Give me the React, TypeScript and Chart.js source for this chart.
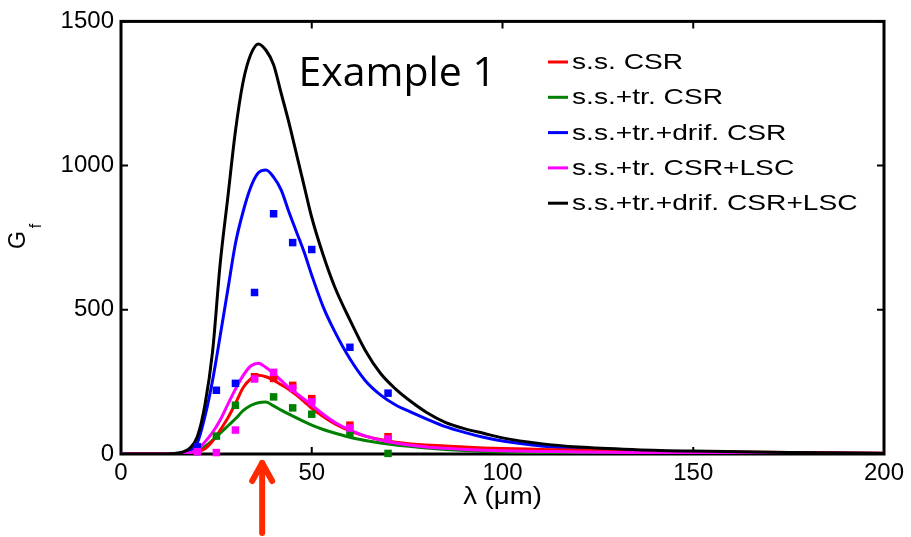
import React, { useEffect, useRef } from "react";
import { Chart, registerables } from "chart.js";
Chart.register(...registerables);

// wavelength grid (µm) for the model curves
const lambdaGrid = [0, 10, 14, 16, 18, 20, 22, 24, 26, 28, 30, 32, 34, 36, 38, 40, 42, 44, 46, 48, 50, 53, 56, 60, 64, 68, 72, 76, 80, 85, 90, 95, 100, 110, 120, 135, 150, 175, 200];
// model curves G_f
const ssCSR = [0, 0, 0, 1, 3, 8, 18, 45, 83, 125, 175, 230, 260, 273, 268, 256, 240, 224, 204, 182, 158, 130, 105, 80, 62, 50, 41, 35, 31, 28, 24, 21, 19, 16, 13, 10, 8, 5, 3];
const ssTrCSR = [0, 0, 0, 1, 3, 10, 26, 48, 72, 97, 122, 150, 168, 178, 180, 167, 152, 138, 125, 112, 100, 85, 73, 58, 47, 38, 31, 26, 21, 16, 12, 9, 7, 4, 3, 2, 1, 1, 0];
const ssTrDrifCSR = [0, 0, 1, 3, 10, 38, 130, 255, 410, 570, 730, 840, 925, 975, 985, 960, 915, 840, 770, 700, 620, 510, 425, 330, 255, 205, 170, 145, 122, 95, 75, 58, 45, 28, 18, 11, 7, 4, 2];
const ssTrCSRLSC = [0, 0, 0, 1, 4, 14, 42, 75, 118, 172, 225, 272, 305, 315, 300, 279, 255, 230, 210, 190, 170, 138, 110, 83, 63, 48, 38, 30, 24, 20, 16, 13, 11, 9, 7, 5, 4, 3, 2];
const ssTrDrifCSRLSC = [0, 0, 2, 6, 20, 60, 170, 355, 660, 890, 1120, 1290, 1385, 1422, 1400, 1350, 1250, 1150, 1040, 930, 820, 690, 580, 465, 360, 280, 225, 182, 145, 110, 88, 72, 56, 36, 24, 15, 10, 5, 3];

// simulation points
const simLambda = [20, 25, 30, 35, 40, 45, 50, 60, 70];
const simSsCSR = [null, null, null, 268, 262, 238, 192, 100, 60];
const simSsTrCSR = [null, 62, 169, null, 198, 160, 138, 72, 2];
const simSsTrDrifCSR = [25, 221, 245, 560, 833, 733, 709, 370, 211];
const simSsTrCSRLSC = [8, 5, 83, 260, 283, 228, 181, 90, 52];

const seriesLabels = ["s.s. CSR", "s.s.+tr. CSR", "s.s.+tr.+drif. CSR", "s.s.+tr. CSR+LSC", "s.s.+tr.+drif. CSR+LSC"];
const seriesColors = ["#ff0000", "#008000", "#0000ff", "#ff00ff", "#000000"];
const xTickValues = [0, 50, 100, 150, 200];
const yTickValues = [0, 500, 1000, 1500];
const xTitle = "λ (μm)";
const yTitleMain = "G";
const yTitleSub = "f";
const annotationText = "Example 1";
const annotationLambda = 46.5;
const annotationG = 1275;
const arrowLambda = 37;

const toXY = (xs: number[], ys: (number | null)[]) => xs.map((x, i) => ({ x, y: ys[i] }));

const framePlugin = {
  id: "frame",
  beforeDatasetsDraw(chart: any) {
    const { ctx, chartArea: a, scales } = chart;
    ctx.save();
    ctx.strokeStyle = "#000";
    ctx.lineWidth = 3;
    ctx.strokeRect(a.left, a.top, a.right - a.left, a.bottom - a.top);
    ctx.lineWidth = 2;
    const tl = 7;
    ctx.beginPath();
    for (const v of xTickValues) {
      const x = scales.x.getPixelForValue(v);
      ctx.moveTo(x, a.bottom); ctx.lineTo(x, a.bottom - tl);
      ctx.moveTo(x, a.top); ctx.lineTo(x, a.top + tl);
    }
    for (const v of yTickValues) {
      const y = scales.y.getPixelForValue(v);
      ctx.moveTo(a.left, y); ctx.lineTo(a.left + tl, y);
      ctx.moveTo(a.right, y); ctx.lineTo(a.right - tl, y);
    }
    ctx.stroke();
    ctx.restore();
  },
  afterDraw(chart: any) {
    const { ctx, chartArea: a, scales } = chart;
    ctx.save();
    // annotation text
    ctx.fillStyle = "#000";
    ctx.font = "41px 'Open Sans'";
    ctx.textAlign = "left";
    ctx.textBaseline = "alphabetic";
    ctx.fillText(annotationText, scales.x.getPixelForValue(annotationLambda), scales.y.getPixelForValue(annotationG));

    // legend
    const lx = 548;
    for (let i = 0; i < seriesLabels.length; i++) {
      const y = 62 + 35.3 * i;
      ctx.strokeStyle = seriesColors[i];
      ctx.lineWidth = 3;
      ctx.beginPath();
      ctx.moveTo(lx, y);
      ctx.lineTo(lx + 20, y);
      ctx.stroke();
      ctx.save();
      ctx.translate(lx + 24, y);
      ctx.scale(1.28, 1);
      ctx.fillStyle = "#000";
      ctx.font = "22px 'Liberation Sans'";
      ctx.textBaseline = "middle";
      ctx.fillText(seriesLabels[i], 0, 1);
      ctx.restore();
    }

    // x title
    ctx.save();
    ctx.translate((a.left + a.right) / 2, 498);
    ctx.scale(1.2, 1);
    ctx.font = "23px 'Liberation Sans'";
    ctx.fillStyle = "#000";
    ctx.textAlign = "center";
    ctx.textBaseline = "middle";
    ctx.fillText(xTitle, 0, 0);
    ctx.restore();

    // y title
    ctx.save();
    ctx.translate(19, 240);
    ctx.rotate(-Math.PI / 2);
    ctx.font = "23px 'Liberation Sans'";
    ctx.fillStyle = "#000";
    ctx.textAlign = "center";
    ctx.textBaseline = "middle";
    ctx.fillText(yTitleMain, 0, 0);
    ctx.font = "16px 'Liberation Sans'";
    ctx.fillText(yTitleSub, 14, 18);
    ctx.restore();

    // arrow
    const ax = scales.x.getPixelForValue(arrowLambda);
    const tipY = a.bottom + 6;
    const baseY = 533;
    ctx.strokeStyle = "#ff2a00";
    ctx.lineCap = "round";
    ctx.lineJoin = "round";
    ctx.lineWidth = 6;
    ctx.beginPath();
    ctx.moveTo(ax, baseY);
    ctx.lineTo(ax, tipY + 3);
    ctx.stroke();
    ctx.beginPath();
    ctx.moveTo(ax - 10, tipY + 21);
    ctx.lineTo(ax, tipY + 3);
    ctx.lineTo(ax + 10, tipY + 21);
    ctx.stroke();
    ctx.restore();
  },
};

export default function App() {
  const ref = useRef<HTMLCanvasElement | null>(null);
  useEffect(() => {
    if (!ref.current) return;
    const lineDs = (ys: number[], idx: number, order: number) => ({
      label: seriesLabels[idx],
      data: toXY(lambdaGrid, ys),
      showLine: true,
      borderColor: seriesColors[idx],
      backgroundColor: seriesColors[idx],
      borderWidth: 3,
      pointRadius: 0,
      cubicInterpolationMode: "monotone" as const,
      order,
    });
    const ptDs = (ys: (number | null)[], idx: number, order: number) => ({
      label: seriesLabels[idx] + " sim",
      data: toXY(simLambda, ys),
      showLine: false,
      pointStyle: "rect",
      pointRadius: 5.3,
      pointBorderWidth: 0,
      borderWidth: 0,
      backgroundColor: seriesColors[idx],
      borderColor: seriesColors[idx],
      clip: false,
      order,
    });
    const chart = new Chart(ref.current, {
      type: "scatter",
      data: {
        datasets: [
          ptDs(simSsTrCSRLSC, 3, 0),
          ptDs(simSsCSR, 0, 1),
          ptDs(simSsTrCSR, 1, 2),
          ptDs(simSsTrDrifCSR, 2, 3),
          lineDs(ssTrDrifCSRLSC, 4, 4),
          lineDs(ssTrCSRLSC, 3, 5),
          lineDs(ssCSR, 0, 6),
          lineDs(ssTrCSR, 1, 7),
          lineDs(ssTrDrifCSR, 2, 8),
        ] as any,
      },
      options: {
        animation: false,
        responsive: false,
        maintainAspectRatio: false,
        layout: { padding: { top: 20, right: 27, left: 0, bottom: 0 } },
        plugins: { legend: { display: false }, tooltip: { enabled: false } },
        scales: {
          x: {
            type: "linear",
            min: 0,
            max: 200,
            afterBuildTicks: (s: any) => { s.ticks = xTickValues.map((v) => ({ value: v })); },
            afterFit: (s: any) => { s.height = 83; },
            grid: { display: false, drawTicks: false },
            border: { display: false },
            ticks: { color: "#000", font: { family: "'Liberation Sans'", size: 24 }, padding: 5, maxRotation: 0, autoSkip: false, callback: (v: any) => String(v) },
          },
          y: {
            type: "linear",
            min: 0,
            max: 1500,
            afterBuildTicks: (s: any) => { s.ticks = yTickValues.map((v) => ({ value: v })); },
            afterFit: (s: any) => { s.width = 121; },
            grid: { display: false, drawTicks: false },
            border: { display: false },
            ticks: { color: "#000", font: { family: "'Liberation Sans'", size: 24 }, padding: 7, autoSkip: false, callback: (v: any) => String(v) },
          },
        },
      } as any,
      plugins: [framePlugin],
    });
    return () => chart.destroy();
  }, []);
  return (
    <div style={{ position: "fixed", left: 0, top: 0, width: 911, height: 537, background: "#fff" }}>
      <canvas ref={ref} width={911} height={537} style={{ width: 911, height: 537, display: "block" }} />
    </div>
  );
}
